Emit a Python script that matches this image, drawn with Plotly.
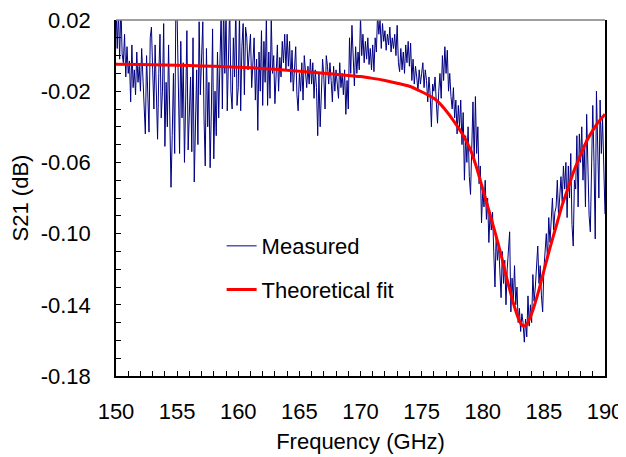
import plotly.graph_objects as go

freq_start = 150.0
freq_step = 0.1
measured = [
    0.028, 0.004, 0.025, -0.002, 0.030, 0.001, -0.004, 0.012, -0.012, 0.005,
    -0.010, -0.003, -0.026, 0.006, -0.018, -0.008, -0.022, 0.002, -0.015, -0.006,
    -0.020, 0.004, -0.012, -0.030, -0.044, 0.000, -0.018, -0.043, 0.010, 0.016,
    -0.008, -0.030, 0.006, -0.024, -0.047, -0.010, 0.012, -0.035, -0.020, 0.018,
    -0.051, -0.015, -0.040, 0.006, -0.030, -0.074, -0.045, -0.010, -0.055, 0.030,
    0.022, -0.020, -0.055, 0.008, -0.035, -0.004, -0.060, -0.025, 0.014, -0.053,
    -0.030, -0.012, -0.054, 0.010, -0.071, -0.040, -0.008, -0.050, 0.019, -0.022,
    -0.003, 0.019, -0.035, -0.062, 0.004, -0.040, -0.015, -0.063, -0.030, 0.015,
    -0.058, -0.020, -0.045, 0.002, -0.035, -0.010, 0.025, -0.030, 0.030, -0.010,
    0.025, -0.031, -0.008, 0.028, -0.020, -0.030, 0.010, -0.012, 0.030, -0.028,
    -0.018, 0.024, -0.031, 0.005, 0.018, -0.022, 0.016, 0.010, -0.008, 0.000,
    0.012, -0.018, -0.005, 0.010, -0.025, -0.002, -0.042, 0.002, -0.020, 0.014,
    -0.028, 0.008, -0.015, 0.022, -0.028, 0.002, -0.024, 0.021, -0.010, 0.000,
    -0.027, -0.010, 0.006, -0.020, -0.001, -0.012, 0.008, -0.004, 0.012, -0.008,
    0.012, -0.006, 0.008, -0.015, 0.003, -0.020, -0.006, 0.005, -0.022, -0.031,
    -0.010, -0.020, -0.004, -0.025, 0.000, -0.012, -0.018, -0.006, -0.016, -0.002,
    -0.016, -0.004, -0.024, -0.008, -0.018, -0.045, -0.010, -0.040, -0.022, -0.002,
    -0.012, -0.030, 0.000, -0.006, -0.016, -0.004, -0.014, -0.026, -0.006, -0.020,
    -0.008, -0.016, -0.024, -0.004, -0.018, -0.010, -0.022, -0.008, -0.033, -0.014,
    -0.030, 0.010, -0.010, 0.017, -0.004, -0.017, 0.005, -0.010, 0.002, -0.008,
    0.022, 0.000, 0.012, -0.004, 0.008, -0.002, 0.010, -0.005, 0.004, -0.008,
    0.006, -0.009, 0.010, 0.002, 0.024, 0.012, 0.020, 0.004, 0.018, 0.008,
    0.014, 0.003, 0.012, 0.006, 0.016, 0.002, 0.010, 0.004, 0.012, 0.000,
    0.017, -0.004, -0.009, 0.004, -0.008, 0.002, -0.010, 0.006, -0.004, 0.008,
    -0.006, 0.007, -0.014, -0.002, -0.016, -0.006, -0.012, -0.020, -0.008, -0.016,
    -0.010, -0.004, -0.018, -0.008, -0.014, -0.026, -0.012, -0.022, -0.040, -0.016,
    -0.020, -0.012, -0.026, -0.038, -0.020, -0.010, -0.024, 0.000, -0.014, 0.005,
    -0.010, 0.003, -0.020, -0.010, -0.023, -0.030, -0.018, -0.035, -0.025, -0.044,
    -0.028, -0.040, -0.025, -0.050, -0.032, -0.070, -0.045, -0.060, -0.040, -0.068,
    -0.078, -0.050, -0.026, -0.060, -0.023, -0.055, -0.040, -0.072, -0.062, -0.094,
    -0.075, -0.085, -0.070, -0.092, -0.080, -0.105, -0.088, -0.098, -0.088, -0.110,
    -0.130, -0.100, -0.115, -0.106, -0.125, -0.136, -0.110, -0.128, -0.115, -0.140,
    -0.120, -0.106, -0.099, -0.144, -0.125, -0.138, -0.118, -0.140, -0.130, -0.150,
    -0.142, -0.155, -0.145, -0.150, -0.161, -0.148, -0.158, -0.135, -0.152, -0.140,
    -0.150, -0.123, -0.138, -0.130, -0.115, -0.107, -0.128, -0.118, -0.135, -0.144,
    -0.120, -0.110, -0.100, -0.115, -0.091, -0.105, -0.095, -0.080, -0.098, -0.088,
    -0.085, -0.070, -0.090, -0.078, -0.068, -0.082, -0.062, -0.075, -0.060, -0.091,
    -0.062, -0.080, -0.055, -0.095, -0.107, -0.070, -0.075, -0.045, -0.085, -0.044,
    -0.060, -0.040, -0.070, -0.050, -0.085, -0.033, -0.060, -0.090, -0.099, -0.050,
    -0.028, -0.060, -0.103, -0.020, -0.045, -0.080, -0.025, -0.055, -0.035, -0.070,
    -0.089,
]
measured_freq = [round(freq_start + i * freq_step, 1) for i in range(len(measured))]

fit_freq = [150, 152, 154, 156, 158, 160, 162, 164, 166, 168, 170, 171, 172, 173,
            174, 175, 176, 176.5, 177, 177.5, 178, 178.5, 179, 179.5, 180, 180.5,
            181, 181.5, 182, 182.5, 183, 183.3, 183.6, 184, 184.5, 185, 185.5,
            186, 186.5, 187, 187.5, 188, 188.5, 189, 189.5, 190]
fit_s21 = [-0.0048, -0.0050, -0.0053, -0.0056, -0.0060, -0.0065, -0.0072, -0.0082,
           -0.0093, -0.0105, -0.0118, -0.0128, -0.0140, -0.0155, -0.0172, -0.0203,
           -0.0240, -0.0270, -0.0310, -0.0355, -0.0405, -0.0460, -0.0530, -0.0630,
           -0.0750, -0.0870, -0.0990, -0.1120, -0.1260, -0.1390, -0.1490, -0.1520,
           -0.1510, -0.1450, -0.1340, -0.1210, -0.1080, -0.0960, -0.0840, -0.0740,
           -0.0640, -0.0560, -0.0480, -0.0420, -0.0370, -0.0330]

x_ticks = [150, 155, 160, 165, 170, 175, 180, 185, 190]
x_ticktext = ["150", "155", "160", "165", "170", "175", "180", "185", "190"]
y_ticks = [0.02, -0.02, -0.06, -0.10, -0.14, -0.18]
y_ticktext = ["0.02", "-0.02", "-0.06", "-0.10", "-0.14", "-0.18"]

font_family = "Liberation Sans, Arial, sans-serif"

fig = go.Figure()
fig.add_trace(go.Scatter(
    x=measured_freq, y=measured, mode="lines", name="Measured",
    line=dict(color="#000080", width=1), legendgroup="a"))
fig.add_trace(go.Scatter(
    x=fit_freq, y=fit_s21, mode="lines", name="Theoretical fit",
    line=dict(color="#ff0000", width=3, shape="spline", smoothing=0.6), legendgroup="b"))

fig.update_layout(
    width=618, height=449,
    margin=dict(l=108, r=21, t=12, b=81),
    paper_bgcolor="white", plot_bgcolor="white",
    font=dict(family=font_family, size=22, color="black"),
    showlegend=True,
    legend=dict(x=0.216, y=0.424, xanchor="left", yanchor="top",
                bgcolor="rgba(0,0,0,0)", tracegroupgap=12,
                font=dict(size=22), itemwidth=30),
    xaxis=dict(range=[150, 190], tickvals=x_ticks, ticktext=x_ticktext,
               ticks="inside", ticklen=5,
               tickcolor="black", showline=True, linecolor="black", linewidth=1.5,
               showgrid=False, zeroline=False, automargin=False,
               tickfont=dict(size=22), ticklabeloverflow="allow",
               minor=dict(dtick=1, ticks="inside", ticklen=5, tickcolor="black"),
               title=dict(text="Frequency (GHz)", standoff=10, font=dict(size=22)),
               ticklabelstandoff=15),
    yaxis=dict(range=[-0.18, 0.02], tickvals=y_ticks, ticktext=y_ticktext,
               ticks="inside", ticklen=5, tickcolor="black",
               showline=True, linecolor="black", linewidth=1.5, mirror=True,
               showgrid=False, zeroline=False, automargin=False,
               tickfont=dict(size=22), ticklabeloverflow="allow",
               minor=dict(dtick=0.01, tick0=0.02, ticks="inside", ticklen=5, tickcolor="black"),
               title=dict(text="S21 (dB)", standoff=6, font=dict(size=22)),
               ticklabelstandoff=19),
    shapes=[dict(type="line", xref="paper", yref="paper", x0=0, x1=1, y0=1, y1=1,
                 line=dict(color="#808080", width=1.5))],
)

fig.write_html("out.html")
